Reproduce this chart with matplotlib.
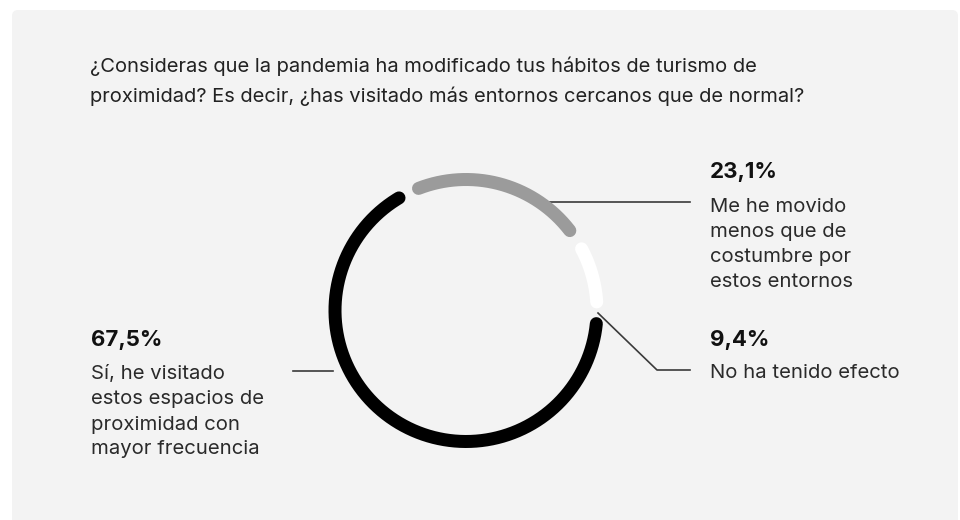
import numpy as np
import matplotlib
matplotlib.use("Agg")
import matplotlib.pyplot as plt
from matplotlib.patches import FancyBboxPatch

plt.rcParams['font.family'] = ['Inter', 'DejaVu Sans']

# data
labels = ["Me he movido\nmenos que de\ncostumbre por\nestos entornos",
          "No ha tenido efecto",
          "Sí, he visitado\nestos espacios de\nproximidad con\nmayor frecuencia"]
values = [23.1, 9.4, 67.5]
pct_text = ["23,1%", "9,4%", "67,5%"]
colors = ["#9b9b9b", "#ffffff", "#000000"]
title = ("¿Consideras que la pandemia ha modificado tus hábitos de turismo de\n"
         "proximidad? Es decir, ¿has visitado más entornos cercanos que de normal?")

W, H = 960, 520
fig = plt.figure(figsize=(W / 100, H / 100), dpi=100)
ax = fig.add_axes([0, 0, 1, 1])
ax.set_xlim(0, W)
ax.set_ylim(H, 0)
ax.axis("off")

# background panel
panel = FancyBboxPatch((12, 10), 946, 530, boxstyle="round,pad=0,rounding_size=6",
                       fc="#f3f3f3", ec="none")
ax.add_patch(panel)

for i, line in enumerate(title.split("\n")):
    ax.text(90, 66 + 30 * i, line, fontsize=14.5, color="#222222",
            va="center", ha="left")

# ring
cx, cy, R = 466, 310.5, 131
start = -26.0
gap = 9.5
px = 72 / 100  # points per pixel
t0 = start
for v, c in zip(values, colors):
    span = v / 100 * 360
    t = np.radians(np.linspace(t0 + gap / 2, t0 + span - gap / 2, 200))
    ax.plot(cx + R * np.sin(t), cy - R * np.cos(t), color=c, lw=13 * px,
            solid_capstyle="round", zorder=3)
    t0 += span

# leader lines
lc = "#3a3a3a"
ax.plot([543, 690], [202, 202], color=lc, lw=1.2, zorder=2)
ax.plot([598, 657, 690], [313, 370, 370], color=lc, lw=1.2, zorder=4)
ax.plot([293, 333], [370.7, 370.7], color=lc, lw=1.2, zorder=2)


def label_block(x, y_pct, y_first, pct, text):
    ax.text(x, y_pct, pct, fontsize=16, fontweight="bold", color="#111111",
            va="center", ha="left")
    for j, line in enumerate(text.split("\n")):
        ax.text(x, y_first + 25 * j, line, fontsize=14.6, color="#2a2a2a",
                va="center", ha="left")


label_block(710, 171.5, 207, pct_text[0], labels[0])
label_block(710, 339.5, 373, pct_text[1], labels[1])
label_block(91, 339.5, 374.5, pct_text[2], labels[2])

fig.savefig("out.png", dpi=100, facecolor="white")
